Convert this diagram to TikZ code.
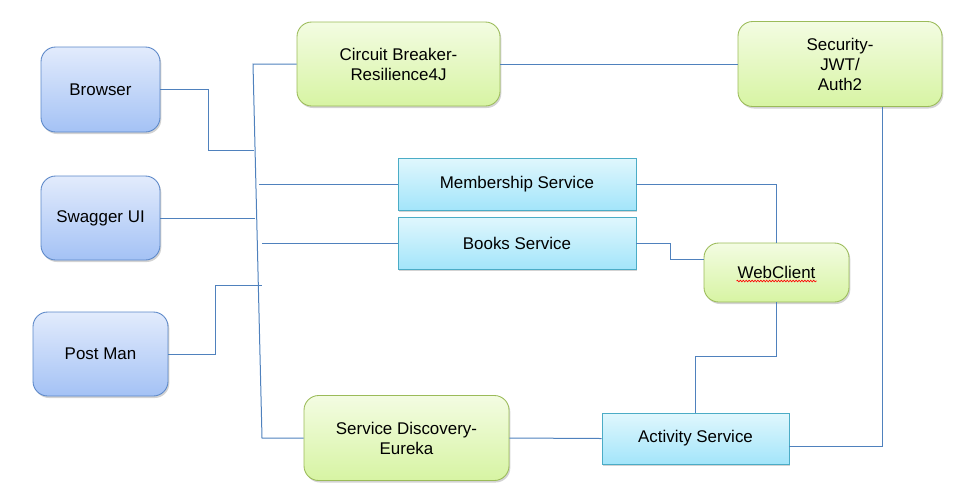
\documentclass[tikz,border=0pt]{standalone}
\usepackage{fontspec}
\setmainfont{Liberation Sans}
\usepackage{tikz}
\usetikzlibrary{calc}
\usetikzlibrary{shadows}
\usetikzlibrary{decorations.pathmorphing}

\definecolor{linkblue}{RGB}{79,129,189}
\definecolor{clienttop}{RGB}{226,235,252}
\definecolor{clientbot}{RGB}{164,194,245}
\definecolor{clientrim}{RGB}{91,135,200}
\definecolor{tooltop}{RGB}{243,252,226}
\definecolor{toolbot}{RGB}{215,244,163}
\definecolor{toolrim}{RGB}{155,187,89}
\definecolor{svctop}{RGB}{224,247,253}
\definecolor{svcbot}{RGB}{163,229,250}
\definecolor{svcrim}{RGB}{75,172,198}

\tikzset{
  boxbase/.style={draw, line width=0.65pt, inner sep=0pt, align=center,
    font=\fontsize{12.7}{15}\selectfont,
    drop shadow={opacity=0.35, shadow xshift=1pt, shadow yshift=-1.5pt}},
  clientbox/.style={boxbase, rounded corners=11pt, draw=clientrim,
    top color=clienttop, bottom color=clientbot},
  toolbox/.style={boxbase, rounded corners=11pt, draw=toolrim,
    top color=tooltop, bottom color=toolbot},
  svcbox/.style={boxbase, draw=svcrim, top color=svctop, bottom color=svcbot},
  link/.style={draw=linkblue, line width=0.75pt}
}

\begin{document}
\begin{tikzpicture}[x=0.75pt, y=-0.75pt]
    \useasboundingbox (0,0) rectangle (967,494);

    % Clients on the left
    \node [clientbox, minimum width=89.25pt, minimum height=63.75pt] (browser) at (100.5,89.5) {Browser};
    \node [clientbox, minimum width=89.25pt, minimum height=63pt] (swagger) at (100.5,218) {Swagger UI};
    \node [clientbox, minimum width=101.25pt, minimum height=63pt] (postman) at (100.5,354) {Post Man};

    % Supporting tools (green)
    \node [toolbox, minimum width=152.25pt, minimum height=63pt] (breaker) at (398.5,64) {Circuit Breaker-\\Resilience4J};
    \node [toolbox, minimum width=153pt, minimum height=63.75pt] (security) at (840,64) {Security-\\JWT/\\Auth2};
    \node [toolbox, minimum width=108.75pt, minimum height=44.25pt] (webclient) at (776.5,272.5) {WebClient};
    \node [toolbox, minimum width=153.75pt, minimum height=63.75pt] (discovery) at (406.5,438) {Service Discovery-\\Eureka};

    % Services (cyan)
    \node [svcbox, minimum width=178.5pt, minimum height=39pt] (membership) at (517,184) {Membership Service};
    \node [svcbox, minimum width=178.5pt, minimum height=39pt] (books) at (517,243) {Books Service};
    \node [svcbox, minimum width=140.25pt, minimum height=38.25pt] (activity) at (695.5,438.5) {Activity Service};

    % Spell check mark under WebClient
    \draw [red, line width=0.5pt, decorate, decoration={snake, amplitude=0.6pt, segment length=2.2pt}]
        ($(webclient.center)+(-40,8.5)$) -- ($(webclient.center)+(40,8.5)$);

    % Points on the slanted trunk
    \coordinate (trunktop) at (253,64);
    \coordinate (trunkbot) at (262,438);
    \coordinate (jbrowser) at (254,150);
    \coordinate (jswagger) at (255,218);
    \coordinate (jpostman) at (262,285);
    \coordinate (jmember) at (259,184);
    \coordinate (jbooks) at (262,243);

    % Drawing trunk from breaker to discovery
    \draw [link] (breaker.west) -- (trunktop) -- (trunkbot) -- (discovery.west);

    % Drawing clients into trunk
    \draw [link] (browser.east) -- ++(48,0) |- (jbrowser);
    \draw [link] (swagger.east) -- (jswagger);
    \draw [link] (postman.east) -- ++(47,0) |- (jpostman);

    % Drawing trunk out to services
    \draw [link] (jmember) -- (membership.west);
    \draw [link] (jbooks) -- (books.west);

    % Drawing breaker to security
    \draw [link] (breaker.east) -- (security.west);

    % Drawing security down to activity
    \draw [link] ([xshift=31.5pt]security.south) |- ([yshift=-6pt]activity.east);

    % Drawing services to webclient
    \draw [link] (membership.east) -| (webclient.north);
    \draw [link] (books.east) -- ++(34,0) |- ([yshift=9.4pt]webclient.west);

    % Drawing webclient to activity
    \draw [link] (webclient.south) -- ++(0,54) -| (activity.north);

    % Drawing activity to discovery
    \draw [link] (activity.west) -- (discovery.east);
\end{tikzpicture}
\end{document}
